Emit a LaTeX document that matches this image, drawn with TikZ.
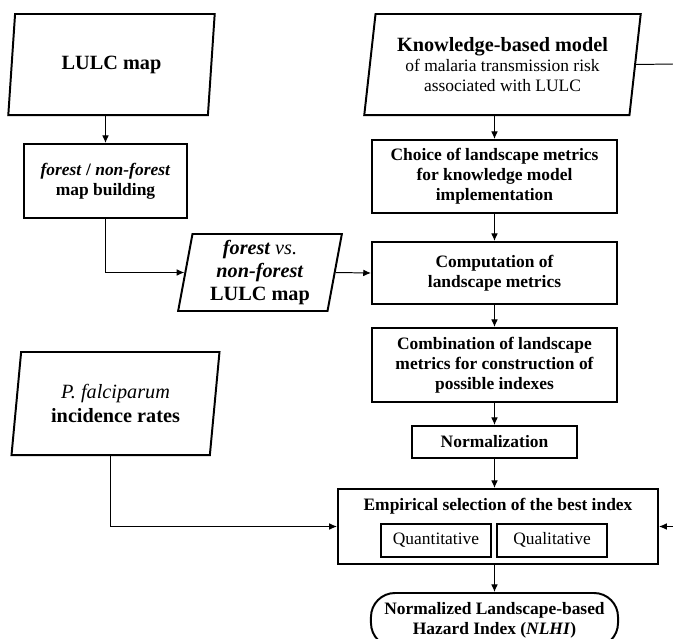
\documentclass[tikz,border=0pt]{standalone}
\usepackage{fontspec}
\setmainfont{Liberation Serif}
\usetikzlibrary{shapes.geometric, arrows.meta}

\newcommand{\titlesize}{\fontsize{14.4}{16.5}\selectfont}
\newcommand{\boxsize}{\fontsize{12.4}{14.2}\selectfont}

\begin{document}
\begin{tikzpicture}[
        x=0.025cm, y=-0.025cm,
        box/.style={rectangle, draw, line width=1.4pt, align=center, font=\boxsize\bfseries, inner sep=2pt},
        data/.style={trapezium, trapezium left angle=81, trapezium right angle=99, trapezium stretches=true,
            draw, line width=1.4pt, align=center, font=\titlesize\bfseries, inner sep=2pt},
        qbox/.style={rectangle, draw, line width=1.4pt, font=\boxsize, minimum width=2.75cm, minimum height=0.825cm,
            text height=1.6ex, text depth=0.4ex},
        term/.style={rectangle, rounded corners=0.6cm, draw, line width=1.4pt, align=center, font=\boxsize\bfseries},
        arrow/.style={-{Latex[length=5.5pt, width=4.8pt]}, line width=0.7pt}
    ]
        \useasboundingbox (0,0) rectangle (673,639);
        \clip (0,0) rectangle (673,639);

        % Inputs (parallelograms)
        \node[data, minimum width=5.2cm, minimum height=2.525cm] (lulc) at (111.5,64.5) {LULC map};
        \node[data, minimum width=6.925cm, minimum height=2.525cm] (know) at (502.5,64.5)
            {Knowledge-based model\\[-2pt] {\boxsize\mdseries of malaria transmission risk}\\[-2pt] {\boxsize\mdseries associated with LULC}};
        \node[data, minimum width=4.1cm, minimum height=1.925cm] (fvn) at (260,272.5)
            {\textit{forest \textmd{vs.}}\\ \textit{non-forest}\\ LULC map};
        \node[data, minimum width=5.2cm, minimum height=2.575cm] (pfalc) at (115.5,403.5)
            {\textmd{\textit{P.~falciparum}}\\ incidence rates};

        % Left column
        \node[box, minimum width=4.075cm, minimum height=1.85cm] (fnfbox) at (105.5,181)
            {\textit{forest} / \textit{non-forest}\\ map building};

        % Right column: processing steps
        \node[box, minimum width=6.125cm, minimum height=1.825cm] (choice) at (494.5,176.5)
            {Choice of landscape metrics\\ for knowledge model\\ implementation};
        \node[box, minimum width=6.125cm, minimum height=1.55cm] (comp) at (494.5,273)
            {Computation of\\ landscape metrics};
        \node[box, minimum width=6.125cm, minimum height=1.85cm] (comb) at (494.5,365)
            {Combination of landscape\\ metrics for construction of\\ possible indexes};
        \node[box, minimum width=4.1cm, minimum height=0.8cm] (norm) at (494.5,442) {Normalization};

        % Index selection
        \node[box, minimum width=8cm, minimum height=1.875cm] (empsel) at (498,526.5) {};
        \node[font=\boxsize\bfseries] (emptitle) at (498,506) {Empirical selection of the best index};
        \node[qbox] (quanti) at (436,540.5) {Quantitative};
        \node[qbox] (quali) at (552,540.5) {Qualitative};

        % Output
        \node[term, minimum width=6.175cm, minimum height=1.35cm] (nlhi) at (494.5,620)
            {Normalized Landscape-based\\ Hazard Index (\textit{NLHI})};

        % Loose ends at the right border
        \coordinate (knowout) at (673,64);
        \coordinate (empin) at (673,526.5);

        % Arrows
        \draw[arrow] (fnfbox.north |- lulc.bottom side) -- (fnfbox.north);
        \draw[arrow] (fnfbox.south) |- (fvn.left side);
        \draw[arrow] (fvn.right side) -- (comp.west);
        \draw[arrow] (choice.north |- know.bottom side) -- (choice.north);
        \draw[line width=0.7pt] (know.right side) -- (knowout);
        \draw[arrow] (choice) -- (comp);
        \draw[arrow] (comp) -- (comb);
        \draw[arrow] (comb) -- (norm);
        \draw[arrow] (norm.south) -- (norm.south |- empsel.north);
        \draw[arrow] (pfalc.bottom side) |- (empsel.west);
        \draw[arrow] (empin) -- (empsel.east);
        \draw[arrow] (nlhi.north |- empsel.south) -- (nlhi.north);

    \end{tikzpicture}
\end{document}
